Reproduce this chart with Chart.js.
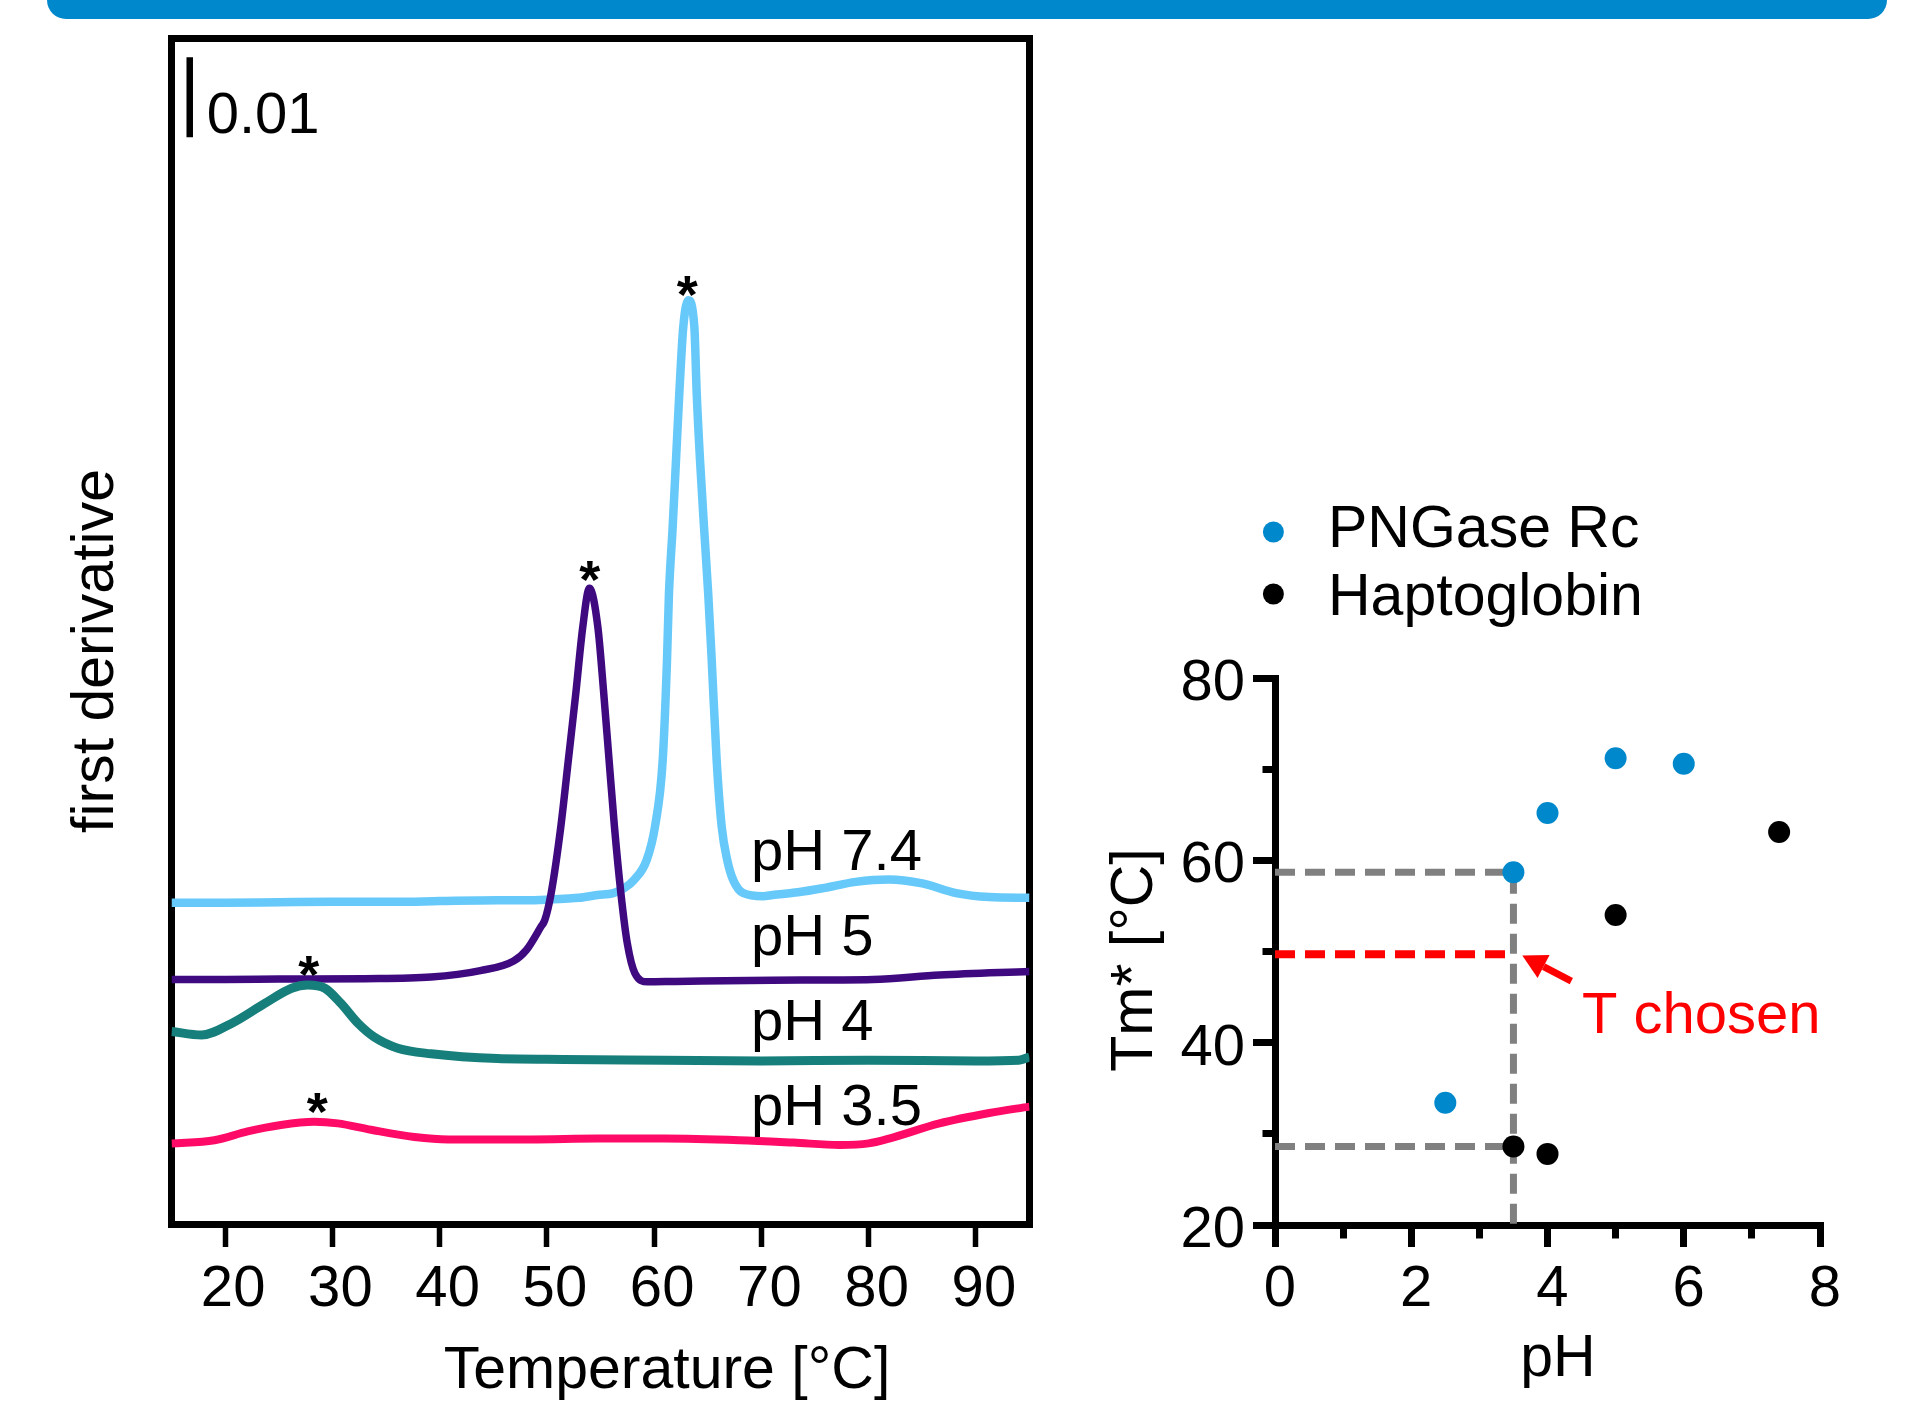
<!DOCTYPE html>
<html>
<head>
<meta charset="utf-8">
<script src="https://cdn.jsdelivr.net/npm/chart.js@4.4.1/dist/chart.umd.min.js"></script>
<style>
  html, body { margin: 0; padding: 0; background: #fff; }
  body { position: relative; width: 1922px; height: 1405px; overflow: hidden; }
  .banner { position: absolute; left: 47px; top: 0; width: 1840px; height: 19px;
            background: #0088cc; border-radius: 0 0 20px 20px; }
  #tempChart { position: absolute; left: 0; top: 0; }
  #tmChart   { position: absolute; left: 1060px; top: 0; }
</style>
</head>
<body>
<div class="banner"></div>
<canvas id="tempChart" width="1060" height="1405"></canvas>
<canvas id="tmChart" width="862" height="1405"></canvas>
<script>
const FONT      = '"Liberation Sans", Arial, Helvetica, sans-serif';
const TXT_SIZE  = 59;
const TICK_SIZE = 58;

/* ── Left panel: first derivative (x1000, stacked offsets) ── */
const tempTicks   = [20, 30, 40, 50, 60, 70, 80, 90];
const curvePH     = [7.4, 5, 4, 3.5];
const curveLabels = ["pH 7.4", "pH 5", "pH 4", "pH 3.5"];
const curveColors = ["#66c9f9", "#3f0a80", "#167f7b", "#ff0a66"];

const derivPH74 = [
  [15, 39.8], [20, 39.8], [25, 39.85], [30, 39.9], [36, 39.9], [40, 40.0], [45.4, 40.1],
  [48.4, 40.1], [51.6, 40.3], [53.0, 40.4], [54.7, 40.75], [56.2, 41.0], [57.2, 41.6],
  [58.1, 42.6], [59.3, 45.1], [60.08, 49.3], [60.8, 57.6], [61.2, 70.1], [61.38, 78.3],
  [61.73, 86.8], [62.04, 95.1], [62.35, 103.5], [62.72, 111.8], [63.19, 115.1],
  [63.75, 111.8], [63.97, 103.5], [64.28, 95.1], [64.65, 86.8], [65.05, 78.3],
  [65.37, 70.1], [65.83, 57.6], [66.3, 49.3], [66.82, 45.1], [67.38, 42.6], [68.3, 41.0],
  [70.15, 40.6], [71.05, 40.75], [73.4, 41.1], [75.7, 41.6], [78.8, 42.4], [81.9, 42.7],
  [85.0, 42.2], [88.15, 41.0], [91.25, 40.5], [95, 40.4]
];
const derivPH5 = [
  [15, 30.2], [20, 30.2], [25, 30.25], [33, 30.3], [39.2, 30.5], [43.8, 31.3], [46.9, 32.5],
  [48.1, 33.9], [49.45, 36.8], [49.8, 37.6], [50.4, 41.0], [51.3, 49.3], [52.0, 57.6],
  [52.7, 66.0], [53.35, 74.3], [53.97, 79.1], [54.75, 74.3], [55.3, 66.0], [55.8, 57.6],
  [56.3, 49.3], [56.9, 41.0], [57.5, 34.7], [58.2, 31.0], [59.4, 29.9], [62, 29.95],
  [71, 30.1], [80.4, 30.2], [86.6, 30.75], [95, 31.2]
];
const derivPH4 = [
  [15, 23.7], [17.8, 23.25], [20.6, 24.7], [23.7, 27.2], [26.2, 29.1], [27.7, 29.5],
  [29.3, 29.1], [30.8, 27.2], [32.4, 24.7], [33.9, 23.0], [36.1, 21.6], [39.2, 20.9],
  [45.4, 20.3], [51.6, 20.2], [61, 20.1], [70, 20.0], [80, 20.1], [90, 20.0], [94, 20.1],
  [95, 20.5]
];
const derivPH35 = [
  [15, 9.7], [19.0, 10.1], [22.1, 11.2], [25.2, 12.0], [28.3, 12.4], [30.5, 12.2],
  [33.6, 11.4], [37.65, 10.5], [40.8, 10.2], [48.5, 10.2], [54.7, 10.3], [61, 10.3],
  [67.95, 10.1], [73, 9.8], [77.3, 9.5], [80, 9.7], [81.9, 10.3], [86.6, 12.2],
  [91.25, 13.5], [95, 14.3]
];
const scaleBar = [[16.7, 135.5], [16.7, 145.5]];   // = 0.01

/* ── Right panel: Tm* vs pH ── */
const pngPH    = [2.5, 3.5, 4, 5, 6];
const pngTm    = [33.4, 58.7, 65.2, 71.2, 70.6];
const haptoPH  = [3.5, 4, 5, 7.4];
const haptoTm  = [28.6, 27.8, 54.0, 63.1];
const phTicks  = [0, 1, 2, 3, 4, 5, 6, 7, 8];
const tmTicks  = [20, 30, 40, 50, 60, 70, 80];
const chosenPH = 3.5;
const chosenT  = 49.7;

Chart.defaults.font.family = FONT;
Chart.defaults.color = "#000";

const curves     = [derivPH74, derivPH5, derivPH4, derivPH35];
const drawOrder  = [3, 2, 1, 4];
const lineWidths = [8.5, 7.5, 9, 8];

function valueAt(curve, t) {
  for (let i = 1; i < curve.length; i++) {
    if (curve[i][0] >= t) {
      const [t0, v0] = curve[i - 1], [t1, v1] = curve[i];
      return v0 + (v1 - v0) * (t - t0) / (t1 - t0);
    }
  }
  return curve[curve.length - 1][1];
}

function frameAxis(position, size) {
  const horizontal = position === "top" || position === "bottom";
  return {
    type: "linear", position,
    display: true,
    ticks: { display: false },
    grid: { display: false, lineWidth: 7 },
    border: { display: true, width: 7, color: "#000" },
    afterFit: s => { if (horizontal) s.height = size; else s.width = size; },
  };
}

/* ── Left chart ─────────────────────────────────────── */
const leftDecor = {
  id: "leftDecor",
  afterDraw(chart) {
    const { ctx, scales: { x, y } } = chart;
    ctx.save();
    ctx.fillStyle = "#000";
    ctx.font = `${TXT_SIZE}px ${FONT}`;
    ctx.textBaseline = "alphabetic";

    ctx.textAlign = "center";
    ctx.fillText("Temperature [°C]", 667, 1388);
    ctx.save();
    ctx.translate(113, 651);
    ctx.rotate(-Math.PI / 2);
    ctx.fillText("first derivative", 0, 0);
    ctx.restore();

    ctx.textAlign = "left";
    ctx.font = `${TICK_SIZE}px ${FONT}`;
    ctx.fillText("0.01", x.getPixelForValue(scaleBar[0][0]) + 17, y.getPixelForValue(scaleBar[0][1]) - 4);

    const labelBase = [870, 955, 1040, 1125];
    curveLabels.forEach((lab, i) => ctx.fillText(lab, 751, labelBase[i]));

    // asterisks at each Tm*
    ctx.textAlign = "center";
    ctx.font = `bold 54px ${FONT}`;
    curves.forEach((c, i) => {
      const tm = haptoTm[haptoPH.indexOf(curvePH[i])];
      const px = x.getPixelForValue(tm);
      const py = y.getPixelForValue(valueAt(c, tm));
      ctx.fillText("*", px, py - 23 + 31);
    });
    ctx.restore();
  }
};

new Chart(document.getElementById("tempChart"), {
  type: "line",
  data: {
    datasets: [
      ...curves.map((c, i) => ({
        label: curveLabels[i],
        data: c.map(([t, v]) => ({ x: t, y: v })),
        borderColor: curveColors[i],
        borderWidth: lineWidths[i],
        pointRadius: 0,
        cubicInterpolationMode: "monotone",
        borderJoinStyle: "round",
        order: drawOrder[i],
      })),
      {
        label: "scale",
        data: scaleBar.map(([t, v]) => ({ x: t, y: v })),
        borderColor: "#000",
        borderWidth: 6.5,
        pointRadius: 0,
        order: 0,
      }
    ]
  },
  options: {
    responsive: false,
    animation: false,
    devicePixelRatio: 1,
    layout: { padding: 0 },
    plugins: { legend: { display: false }, tooltip: { enabled: false } },
    scales: {
      x: {
        type: "linear", position: "bottom", min: 15, max: 95,
        afterBuildTicks: s => { s.ticks = tempTicks.map(v => ({ value: v })); },
        afterFit: s => { s.height = 1405 - 1224.5; },
        grid: { display: true, drawOnChartArea: false, drawTicks: true, tickLength: 22.5,
                tickWidth: 5.5, tickColor: "#000", lineWidth: 7 },
        border: { display: true, width: 7, color: "#000" },
        ticks: { color: "#000", font: { size: TICK_SIZE }, padding: 8, labelOffset: 8,
                 maxRotation: 0, autoSkip: false },
      },
      xTop:   { ...frameAxis("top", 38), min: 15, max: 95 },
      y:      { ...frameAxis("left", 171.5), min: -0.44, max: 147.9 },
      yRight: { ...frameAxis("right", 30.5), min: -0.44, max: 147.9 },
    }
  },
  plugins: [leftDecor]
});

/* ── Right chart ────────────────────────────────────── */
const rightDecor = {
  id: "rightDecor",
  afterDraw(chart) {
    const { ctx, scales: { x, y } } = chart;
    ctx.save();
    ctx.font = `${TXT_SIZE}px ${FONT}`;
    ctx.textBaseline = "alphabetic";

    // legend
    [["PNGase Rc", "#0088cc", 532, 547], ["Haptoglobin", "#000", 594, 615]].forEach(([txt, col, cy, base]) => {
      ctx.fillStyle = col;
      ctx.beginPath();
      ctx.arc(213.4, cy, 10.5, 0, Math.PI * 2);
      ctx.fill();
      ctx.fillStyle = "#000";
      ctx.textAlign = "left";
      ctx.fillText(txt, 268, base);
    });

    // axis titles
    ctx.fillStyle = "#000";
    ctx.textAlign = "center";
    ctx.fillText("pH", 498, 1376);
    ctx.save();
    ctx.translate(92, 960);
    ctx.rotate(-Math.PI / 2);
    ctx.fillText("Tm* [°C]", 0, 0);
    ctx.restore();

    // arrow pointing at chosen temperature
    const tipX = x.getPixelForValue(3.63), tipY = y.getPixelForValue(49.56);
    const tailX = x.getPixelForValue(4.35), tailY = y.getPixelForValue(46.76);
    const ang = Math.atan2(tipY - tailY, tipX - tailX);
    const headLen = 24, headHalf = 13;
    const baseX = tipX - headLen * Math.cos(ang), baseY = tipY - headLen * Math.sin(ang);
    ctx.strokeStyle = "#ff0000";
    ctx.fillStyle = "#ff0000";
    ctx.lineWidth = 7;
    ctx.beginPath();
    ctx.moveTo(tailX, tailY);
    ctx.lineTo(baseX, baseY);
    ctx.stroke();
    ctx.beginPath();
    ctx.moveTo(tipX, tipY);
    ctx.lineTo(baseX + headHalf * Math.sin(ang), baseY - headHalf * Math.cos(ang));
    ctx.lineTo(baseX - headHalf * Math.sin(ang), baseY + headHalf * Math.cos(ang));
    ctx.closePath();
    ctx.fill();

    ctx.textAlign = "left";
    ctx.font = `58px ${FONT}`;
    ctx.fillText("T chosen", 522, 1033);
    ctx.restore();
  }
};

const minorDash = (major, pattern) => c => (c.tick && c.tick.value % major !== 0) ? pattern : [];

new Chart(document.getElementById("tmChart"), {
  type: "scatter",
  data: {
    datasets: [
      {
        label: "PNGase Rc",
        data: pngPH.map((p, i) => ({ x: p, y: pngTm[i] })),
        backgroundColor: "#0088cc", borderWidth: 0, pointRadius: 11, order: 0,
      },
      {
        label: "Haptoglobin",
        data: haptoPH.map((p, i) => ({ x: p, y: haptoTm[i] })),
        backgroundColor: "#000", borderWidth: 0, pointRadius: 11, order: 0,
      },
      {
        label: "guide upper",
        data: [{ x: 0, y: pngTm[1] }, { x: chosenPH, y: pngTm[1] }, { x: chosenPH, y: 20 }],
        showLine: true, borderColor: "#808080", borderWidth: 7, borderDash: [20, 10],
        pointRadius: 0, order: 2,
      },
      {
        label: "guide lower",
        data: [{ x: 0, y: haptoTm[0] }, { x: chosenPH, y: haptoTm[0] }],
        showLine: true, borderColor: "#808080", borderWidth: 7, borderDash: [20, 10],
        pointRadius: 0, order: 2,
      },
      {
        label: "T chosen",
        data: [{ x: 0, y: chosenT }, { x: chosenPH, y: chosenT }],
        showLine: true, borderColor: "#ff0000", borderWidth: 8, borderDash: [20, 10],
        pointRadius: 0, order: 1,
      }
    ]
  },
  options: {
    responsive: false,
    animation: false,
    devicePixelRatio: 1,
    layout: { padding: { top: 678, right: 102, left: 0, bottom: 0 } },
    plugins: { legend: { display: false }, tooltip: { enabled: false } },
    scales: {
      x: {
        type: "linear", position: "bottom", min: 0, max: 8,
        afterBuildTicks: s => { s.ticks = phTicks.map(v => ({ value: v })); },
        afterFit: s => { s.height = 180; },
        grid: { display: true, drawOnChartArea: false, drawTicks: true, tickLength: 22,
                tickWidth: 7, tickColor: "#000", lineWidth: 7,
                tickBorderDash: minorDash(2, [9.5, 100]) },
        border: { display: true, width: 7, color: "#000" },
        ticks: { color: "#000", font: { size: TICK_SIZE }, padding: 8, labelOffset: 5,
                 maxRotation: 0, autoSkip: false,
                 callback: v => (v % 2 === 0 ? String(v) : "") },
      },
      y: {
        type: "linear", position: "left", min: 20, max: 80,
        afterBuildTicks: s => { s.ticks = tmTicks.map(v => ({ value: v })); },
        afterFit: s => { s.width = 215; },
        grid: { display: true, drawOnChartArea: false, drawTicks: true, tickLength: 22,
                tickWidth: 7, tickColor: "#000", lineWidth: 7,
                tickBorderDash: minorDash(20, [0, 9.5, 9.5, 100]) },
        border: { display: true, width: 7, color: "#000" },
        ticks: { color: "#000", font: { size: TICK_SIZE }, padding: 8, labelOffset: 6,
                 autoSkip: false,
                 callback: v => (v % 20 === 0 ? String(v) : "") },
      }
    }
  },
  plugins: [rightDecor]
});
</script>
</body>
</html>
